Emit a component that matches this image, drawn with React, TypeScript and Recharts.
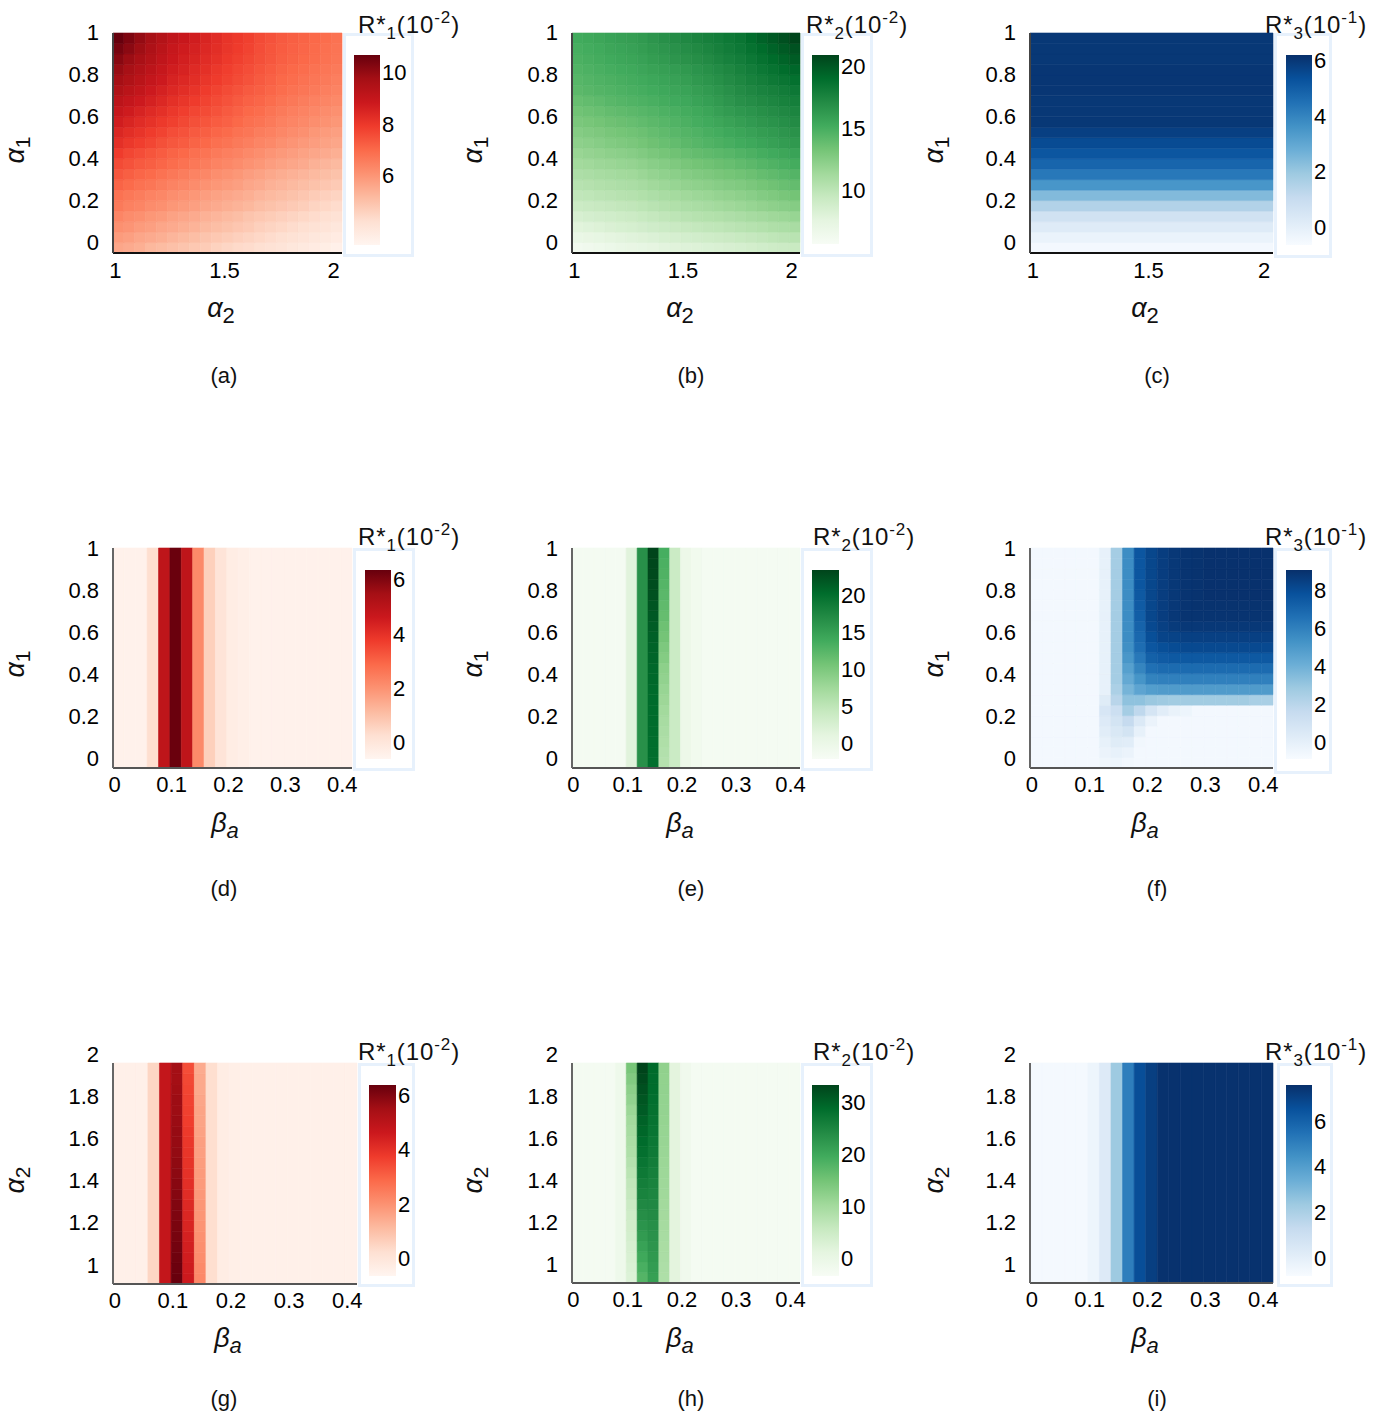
import React from 'react';
import { ScatterChart, Scatter, XAxis, YAxis, ReferenceArea } from 'recharts';

const FONT = '"Liberation Sans", Arial, Helvetica, sans-serif';

// ---------- grids & ticks ----------
const alpha1Values = [0, 0.05, 0.1, 0.15, 0.2, 0.25, 0.3, 0.35, 0.4, 0.45, 0.5, 0.55, 0.6, 0.65, 0.7, 0.75, 0.8, 0.85, 0.9, 0.95, 1];
const alpha2Values = [1, 1.05, 1.1, 1.15, 1.2, 1.25, 1.3, 1.35, 1.4, 1.45, 1.5, 1.55, 1.6, 1.65, 1.7, 1.75, 1.8, 1.85, 1.9, 1.95, 2];
const betaValues = [0, 0.02, 0.04, 0.06, 0.08, 0.1, 0.12, 0.14, 0.16, 0.18, 0.2, 0.22, 0.24, 0.26, 0.28, 0.3, 0.32, 0.34, 0.36, 0.38, 0.4];

const alpha1Ticks = [0, 0.2, 0.4, 0.6, 0.8, 1];
const alpha2TicksX = [1, 1.5, 2];
const alpha2TicksY = [1, 1.2, 1.4, 1.6, 1.8, 2];
const betaTicks = [0, 0.1, 0.2, 0.3, 0.4];

// ---------- colour-bar ranges & ticks ----------
const rangeA = [3.27, 10.69]; const cbTicksA = [6, 8, 10];
const rangeB = [5.67, 20.94]; const cbTicksB = [10, 15, 20];
const rangeC = [-0.64, 6.2]; const cbTicksC = [0, 2, 4, 6];
const rangeD = [-0.6, 6.34]; const cbTicksD = [0, 2, 4, 6];
const rangeE = [-2.1, 23.4]; const cbTicksE = [0, 5, 10, 15, 20];
const rangeF = [-0.9, 9.05]; const cbTicksF = [0, 2, 4, 6, 8];
const rangeG = [-0.65, 6.37]; const cbTicksG = [0, 2, 4, 6];
const rangeH = [-3.4, 33.2]; const cbTicksH = [0, 10, 20, 30];
const rangeI = [-0.77, 7.56]; const cbTicksI = [0, 2, 4, 6];

// ---------- (a) R*1 over alpha2 (cols) x alpha1 (rows, ascending) ----------
const valuesA = [
  [5.6, 5.5, 5.4, 5.2, 5.1, 5.0, 4.9, 4.8, 4.7, 4.55, 4.45, 4.35, 4.3, 4.2, 4.1, 4.0, 3.9, 3.8, 3.7, 3.6, 3.5],
  [5.85, 5.75, 5.6, 5.5, 5.4, 5.25, 5.15, 5.05, 4.9, 4.8, 4.7, 4.6, 4.5, 4.4, 4.3, 4.2, 4.1, 4.0, 3.9, 3.8, 3.7],
  [6.1, 6.0, 5.85, 5.75, 5.6, 5.5, 5.4, 5.3, 5.15, 5.05, 4.95, 4.85, 4.75, 4.6, 4.5, 4.4, 4.3, 4.2, 4.1, 4.0, 3.9],
  [6.35, 6.2, 6.1, 5.95, 5.85, 5.7, 5.6, 5.5, 5.35, 5.25, 5.15, 5.05, 4.9, 4.8, 4.7, 4.6, 4.5, 4.4, 4.3, 4.2, 4.1],
  [6.6, 6.45, 6.35, 6.2, 6.1, 5.95, 5.85, 5.75, 5.6, 5.5, 5.4, 5.3, 5.2, 5.05, 4.95, 4.85, 4.75, 4.65, 4.5, 4.4, 4.3],
  [6.8, 6.65, 6.55, 6.4, 6.3, 6.15, 6.05, 5.95, 5.8, 5.7, 5.6, 5.5, 5.4, 5.25, 5.15, 5.05, 4.95, 4.85, 4.7, 4.6, 4.5],
  [7.1, 6.95, 6.8, 6.7, 6.55, 6.4, 6.3, 6.2, 6.05, 5.95, 5.85, 5.75, 5.6, 5.5, 5.35, 5.25, 5.15, 5.05, 4.95, 4.85, 4.75],
  [7.35, 7.2, 7.05, 6.95, 6.8, 6.65, 6.55, 6.4, 6.3, 6.15, 6.05, 5.95, 5.8, 5.7, 5.55, 5.45, 5.35, 5.25, 5.15, 5.05, 4.95],
  [7.6, 7.45, 7.3, 7.2, 7.05, 6.9, 6.8, 6.65, 6.55, 6.4, 6.3, 6.2, 6.05, 5.95, 5.8, 5.7, 5.6, 5.5, 5.35, 5.25, 5.15],
  [7.9, 7.7, 7.55, 7.4, 7.25, 7.1, 7.0, 6.85, 6.75, 6.6, 6.5, 6.4, 6.25, 6.15, 6.0, 5.9, 5.8, 5.7, 5.6, 5.5, 5.4],
  [8.2, 8.0, 7.85, 7.7, 7.5, 7.35, 7.25, 7.1, 7.0, 6.85, 6.75, 6.6, 6.5, 6.35, 6.25, 6.1, 6.0, 5.9, 5.8, 5.7, 5.6],
  [8.45, 8.25, 8.1, 7.9, 7.75, 7.55, 7.45, 7.3, 7.2, 7.05, 6.95, 6.8, 6.7, 6.55, 6.45, 6.3, 6.2, 6.1, 5.95, 5.85, 5.75],
  [8.7, 8.5, 8.3, 8.15, 7.95, 7.8, 7.65, 7.5, 7.4, 7.25, 7.15, 7.0, 6.85, 6.75, 6.6, 6.45, 6.35, 6.25, 6.15, 6.05, 5.95],
  [8.95, 8.75, 8.55, 8.35, 8.2, 8.0, 7.85, 7.7, 7.6, 7.45, 7.3, 7.15, 7.0, 6.9, 6.75, 6.6, 6.5, 6.4, 6.3, 6.2, 6.1],
  [9.2, 9.0, 8.8, 8.6, 8.4, 8.2, 8.05, 7.9, 7.75, 7.6, 7.45, 7.3, 7.15, 7.05, 6.9, 6.75, 6.65, 6.55, 6.45, 6.35, 6.25],
  [9.5, 9.25, 9.05, 8.8, 8.6, 8.4, 8.25, 8.1, 7.9, 7.75, 7.6, 7.45, 7.3, 7.2, 7.05, 6.9, 6.8, 6.7, 6.6, 6.5, 6.4],
  [9.75, 9.5, 9.25, 9.0, 8.8, 8.55, 8.4, 8.25, 8.05, 7.9, 7.75, 7.6, 7.45, 7.3, 7.15, 7.0, 6.9, 6.8, 6.7, 6.6, 6.5],
  [9.95, 9.7, 9.45, 9.2, 8.95, 8.7, 8.55, 8.35, 8.2, 8.0, 7.85, 7.7, 7.55, 7.4, 7.25, 7.1, 7.0, 6.9, 6.8, 6.7, 6.6],
  [10.2, 9.9, 9.65, 9.4, 9.1, 8.85, 8.65, 8.5, 8.3, 8.15, 7.95, 7.8, 7.65, 7.5, 7.35, 7.2, 7.1, 7.0, 6.9, 6.8, 6.7],
  [10.45, 10.15, 9.85, 9.55, 9.25, 8.95, 8.75, 8.6, 8.4, 8.25, 8.05, 7.9, 7.75, 7.55, 7.4, 7.25, 7.15, 7.05, 6.95, 6.85, 6.75],
  [10.7, 10.35, 10.0, 9.7, 9.4, 9.1, 8.9, 8.7, 8.5, 8.3, 8.1, 7.95, 7.8, 7.6, 7.45, 7.3, 7.2, 7.1, 7.0, 6.9, 6.8],
];

// ---------- (b) R*2 over alpha2 x alpha1 ----------
const valuesB = [
  [6.2, 6.4, 6.6, 6.8, 7.0, 7.2, 7.35, 7.5, 7.7, 7.85, 8.0, 8.1, 8.25, 8.35, 8.5, 8.6, 8.75, 8.9, 9.05, 9.2, 9.35],
  [7.0, 7.2, 7.35, 7.55, 7.7, 7.9, 8.05, 8.2, 8.4, 8.55, 8.7, 8.85, 9.0, 9.1, 9.25, 9.4, 9.55, 9.7, 9.9, 10.05, 10.2],
  [7.8, 7.95, 8.1, 8.3, 8.45, 8.6, 8.8, 8.95, 9.15, 9.3, 9.5, 9.65, 9.8, 9.9, 10.05, 10.2, 10.35, 10.5, 10.7, 10.85, 11.0],
  [8.5, 8.65, 8.8, 8.9, 9.05, 9.2, 9.4, 9.6, 9.8, 10.0, 10.2, 10.35, 10.5, 10.6, 10.75, 10.9, 11.1, 11.25, 11.45, 11.6, 11.8],
  [9.2, 9.3, 9.45, 9.55, 9.7, 9.8, 10.0, 10.2, 10.4, 10.6, 10.8, 10.95, 11.1, 11.3, 11.45, 11.6, 11.8, 12.0, 12.2, 12.4, 12.6],
  [9.8, 9.9, 10.05, 10.15, 10.3, 10.4, 10.6, 10.8, 11.0, 11.2, 11.4, 11.55, 11.7, 11.9, 12.05, 12.2, 12.4, 12.65, 12.85, 13.1, 13.3],
  [10.3, 10.4, 10.55, 10.65, 10.8, 10.9, 11.1, 11.35, 11.55, 11.8, 12.0, 12.15, 12.3, 12.5, 12.65, 12.8, 13.0, 13.25, 13.45, 13.7, 13.9],
  [10.8, 10.9, 11.05, 11.15, 11.3, 11.4, 11.65, 11.9, 12.1, 12.35, 12.6, 12.75, 12.9, 13.1, 13.25, 13.4, 13.6, 13.85, 14.05, 14.3, 14.5],
  [11.3, 11.4, 11.55, 11.65, 11.8, 11.9, 12.15, 12.4, 12.6, 12.85, 13.1, 13.3, 13.45, 13.65, 13.8, 14.0, 14.2, 14.45, 14.65, 14.9, 15.1],
  [11.75, 11.9, 12.05, 12.2, 12.35, 12.5, 12.75, 13.0, 13.2, 13.45, 13.7, 13.9, 14.05, 14.25, 14.4, 14.6, 14.8, 15.05, 15.25, 15.5, 15.7],
  [12.2, 12.35, 12.5, 12.7, 12.85, 13.0, 13.25, 13.5, 13.7, 13.95, 14.2, 14.4, 14.6, 14.8, 15.0, 15.2, 15.4, 15.65, 15.85, 16.1, 16.3],
  [12.6, 12.75, 12.9, 13.1, 13.25, 13.4, 13.6, 13.85, 14.05, 14.3, 14.5, 14.7, 14.95, 15.15, 15.4, 15.6, 15.8, 16.05, 16.25, 16.5, 16.7],
  [13.0, 13.15, 13.3, 13.5, 13.65, 13.8, 14.0, 14.2, 14.4, 14.6, 14.8, 15.05, 15.3, 15.5, 15.75, 16.0, 16.2, 16.45, 16.65, 16.9, 17.1],
  [13.4, 13.55, 13.7, 13.9, 14.05, 14.2, 14.4, 14.55, 14.75, 14.9, 15.1, 15.35, 15.6, 15.9, 16.15, 16.4, 16.6, 16.85, 17.05, 17.3, 17.5],
  [13.8, 13.95, 14.1, 14.3, 14.45, 14.6, 14.75, 14.9, 15.1, 15.25, 15.4, 15.7, 15.95, 16.25, 16.5, 16.8, 17.0, 17.25, 17.45, 17.7, 17.9],
  [14.2, 14.35, 14.5, 14.6, 14.75, 14.9, 15.05, 15.2, 15.4, 15.55, 15.7, 16.0, 16.25, 16.55, 16.8, 17.1, 17.35, 17.6, 17.8, 18.05, 18.3],
  [14.4, 14.55, 14.7, 14.8, 14.95, 15.1, 15.3, 15.45, 15.65, 15.8, 16.0, 16.3, 16.55, 16.85, 17.1, 17.4, 17.7, 17.95, 18.25, 18.5, 18.8],
  [14.6, 14.75, 14.9, 15.05, 15.2, 15.35, 15.55, 15.75, 15.9, 16.1, 16.3, 16.6, 16.85, 17.15, 17.4, 17.7, 18.0, 18.35, 18.65, 19.0, 19.3],
  [14.8, 14.95, 15.1, 15.3, 15.45, 15.6, 15.8, 16.05, 16.25, 16.5, 16.7, 16.95, 17.2, 17.5, 17.75, 18.0, 18.35, 18.7, 19.1, 19.45, 19.8],
  [15.0, 15.15, 15.3, 15.5, 15.65, 15.8, 16.05, 16.3, 16.5, 16.75, 17.0, 17.25, 17.5, 17.8, 18.05, 18.3, 18.7, 19.1, 19.5, 19.9, 20.3],
  [15.2, 15.35, 15.5, 15.7, 15.85, 16.0, 16.25, 16.5, 16.8, 17.05, 17.3, 17.55, 17.8, 18.0, 18.25, 18.5, 19.0, 19.5, 19.9, 20.4, 20.9],
];

// ---------- (c) R*3 per alpha1 row (same across alpha2) ----------
const valuesC = [-0.5, -0.2, 0.2, 0.7, 1.5, 2.4, 3.5, 4.3, 4.8, 5.2, 5.5, 5.8, 6.0, 6.0, 6.0, 6.05, 6.05, 6.05, 6.0, 6.0, 6.0];

// ---------- (d) R*1 per beta column ----------
const valuesD = [-0.45, -0.45, -0.45, 0.3, 4.9, 6.3, 4.9, 2.2, 0.65, 0.1, -0.25, -0.35, -0.45, -0.45, -0.45, -0.45, -0.45, -0.45, -0.45, -0.45, -0.45];

// ---------- (e) R*2 per beta column, two columns vary with alpha1 ----------
const valuesE = [-1.6, -1.6, -1.6, -1.6, -1.6, 1.5, 16.5, 21.5, 9.5, 3.8, -0.3, -1.1, -1.6, -1.6, -1.6, -1.6, -1.6, -1.6, -1.6, -1.6, -1.6];
const valuesECol7 = [20.0, 20.1, 20.1, 20.2, 20.2, 20.2, 20.3, 20.4, 20.5, 20.6, 20.8, 21.0, 21.2, 21.5, 21.8, 22.1, 22.4, 22.7, 23.0, 23.2, 23.4];
const valuesECol8 = [5.8, 6.0, 6.3, 6.6, 6.9, 7.3, 7.7, 8.1, 8.5, 8.9, 9.5, 10.0, 10.6, 11.0, 11.5, 11.9, 12.2, 12.6, 12.9, 13.2, 13.5];

// ---------- (f) R*3 over beta (cols) x alpha1 (rows, ascending) ----------
const valuesF = [
  [-0.7, -0.7, -0.7, -0.7, -0.7, -0.7, -0.5, -0.4, -0.6, -0.7, -0.7, -0.7, -0.7, -0.7, -0.7, -0.7, -0.7, -0.7, -0.7, -0.7, -0.7],
  [-0.7, -0.7, -0.7, -0.7, -0.7, -0.7, -0.3, -0.1, -0.3, -0.7, -0.7, -0.7, -0.7, -0.7, -0.7, -0.7, -0.7, -0.7, -0.7, -0.7, -0.7],
  [-0.7, -0.7, -0.7, -0.7, -0.7, -0.7, -0.1, 0.3, 0.2, -0.6, -0.7, -0.7, -0.7, -0.7, -0.7, -0.7, -0.7, -0.7, -0.7, -0.7, -0.7],
  [-0.7, -0.7, -0.7, -0.7, -0.7, -0.7, 0.2, 0.6, 0.9, -0.1, -0.7, -0.7, -0.7, -0.7, -0.7, -0.7, -0.7, -0.7, -0.7, -0.7, -0.7],
  [-0.7, -0.7, -0.7, -0.7, -0.7, -0.7, 0.4, 0.9, 1.6, 0.5, -0.3, -0.7, -0.7, -0.7, -0.7, -0.7, -0.7, -0.7, -0.7, -0.7, -0.7],
  [-0.7, -0.7, -0.7, -0.7, -0.7, -0.7, 0.7, 1.3, 2.6, 1.8, 0.8, 0.2, -0.2, -0.4, -0.7, -0.7, -0.7, -0.7, -0.7, -0.7, -0.7],
  [-0.7, -0.7, -0.7, -0.7, -0.7, -0.7, 0.3, 2.0, 3.2, 3.2, 2.9, 2.8, 2.7, 2.7, 2.7, 2.7, 2.7, 2.7, 2.7, 2.5, 2.5],
  [-0.7, -0.7, -0.7, -0.7, -0.7, -0.7, -0.1, 2.4, 3.8, 4.5, 4.8, 4.9, 4.9, 4.9, 4.9, 4.9, 4.9, 4.9, 4.9, 4.9, 4.9],
  [-0.7, -0.7, -0.7, -0.7, -0.7, -0.7, -0.1, 2.6, 4.3, 5.2, 5.9, 6.0, 6.0, 6.0, 6.0, 6.0, 6.0, 6.0, 6.0, 6.0, 6.0],
  [-0.7, -0.7, -0.7, -0.7, -0.7, -0.7, -0.1, 2.6, 4.7, 5.8, 6.6, 6.8, 6.8, 6.8, 6.8, 6.8, 6.8, 6.8, 6.8, 6.8, 6.8],
  [-0.7, -0.7, -0.7, -0.7, -0.7, -0.7, -0.1, 2.6, 5.1, 6.3, 7.2, 7.4, 7.5, 7.5, 7.5, 7.5, 7.5, 7.5, 7.5, 7.5, 7.5],
  [-0.7, -0.7, -0.7, -0.7, -0.7, -0.7, -0.1, 2.6, 5.4, 6.7, 7.6, 7.9, 8.0, 8.1, 8.1, 8.1, 8.1, 8.1, 8.1, 8.1, 8.1],
  [-0.7, -0.7, -0.7, -0.7, -0.7, -0.7, -0.1, 2.6, 5.5, 6.9, 7.9, 8.3, 8.35, 8.45, 8.45, 8.45, 8.45, 8.45, 8.45, 8.45, 8.45],
  [-0.7, -0.7, -0.7, -0.7, -0.7, -0.7, -0.1, 2.6, 5.5, 7.1, 8.1, 8.45, 8.65, 8.75, 8.75, 8.75, 8.75, 8.75, 8.75, 8.75, 8.75],
  [-0.7, -0.7, -0.7, -0.7, -0.7, -0.7, -0.1, 2.6, 5.5, 7.3, 8.2, 8.55, 8.75, 8.9, 8.9, 8.9, 8.9, 8.9, 8.9, 8.9, 8.9],
  [-0.7, -0.7, -0.7, -0.7, -0.7, -0.7, -0.1, 2.6, 5.5, 7.4, 8.2, 8.55, 8.75, 8.9, 8.95, 8.95, 8.95, 8.95, 8.95, 8.95, 8.95],
  [-0.7, -0.7, -0.7, -0.7, -0.7, -0.7, -0.1, 2.6, 5.5, 7.5, 8.2, 8.55, 8.75, 8.9, 8.95, 9.0, 9.0, 9.0, 9.0, 9.0, 9.0],
  [-0.7, -0.7, -0.7, -0.7, -0.7, -0.7, -0.1, 2.6, 5.5, 7.6, 8.2, 8.55, 8.75, 8.9, 8.95, 9.0, 9.0, 9.0, 9.0, 9.0, 9.0],
  [-0.7, -0.7, -0.7, -0.7, -0.7, -0.7, -0.1, 2.6, 5.5, 7.6, 8.2, 8.55, 8.75, 8.9, 8.95, 9.0, 9.0, 9.0, 9.0, 9.0, 9.0],
  [-0.7, -0.7, -0.7, -0.7, -0.7, -0.7, -0.1, 2.6, 5.5, 7.6, 8.2, 8.55, 8.75, 8.9, 8.95, 9.0, 9.0, 9.0, 9.0, 9.0, 9.0],
  [-0.7, -0.7, -0.7, -0.7, -0.7, -0.7, -0.1, 2.6, 5.5, 7.6, 8.2, 8.55, 8.75, 8.9, 8.95, 9.0, 9.0, 9.0, 9.0, 9.0, 9.0],
];

// ---------- (g) R*1 per beta column, three columns vary with alpha2 ----------
const valuesG = [-0.45, -0.45, -0.45, 0.47, 4.8, 6.0, 4.0, 1.8, 0.26, -0.3, -0.4, -0.45, -0.45, -0.45, -0.45, -0.45, -0.45, -0.45, -0.45, -0.45, -0.45];
const valuesGCol5 = [6.35, 6.3, 6.25, 6.2, 6.15, 6.1, 6.05, 6.0, 5.95, 5.9, 5.85, 5.8, 5.75, 5.7, 5.7, 5.65, 5.6, 5.6, 5.55, 5.5, 5.5];
const valuesGCol6 = [4.6, 4.55, 4.5, 4.45, 4.4, 4.3, 4.25, 4.2, 4.1, 4.05, 4.0, 3.95, 3.9, 3.85, 3.8, 3.7, 3.65, 3.6, 3.55, 3.5, 3.4];
const valuesGCol7 = [2.2, 2.15, 2.1, 2.05, 2.0, 1.95, 1.9, 1.9, 1.85, 1.8, 1.8, 1.75, 1.7, 1.7, 1.65, 1.6, 1.6, 1.55, 1.5, 1.5, 1.45];

// ---------- (h) R*2 per beta column, four columns vary with alpha2 ----------
const valuesH = [-2.7, -2.7, -2.7, -2.7, -1.2, 7.0, 26.0, 25.0, 10.5, 1.4, -1.6, -2.7, -2.7, -2.7, -2.7, -2.7, -2.7, -2.7, -2.7, -2.7, -2.7];
const valuesHCol5 = [2.5, 2.8, 3.2, 3.5, 3.9, 4.3, 4.7, 5.3, 6.0, 6.5, 7.3, 8.0, 8.7, 9.1, 9.6, 10.1, 10.8, 11.8, 12.5, 13.5, 14.5];
const valuesHCol6 = [17.8, 18.8, 19.8, 20.8, 21.8, 22.8, 23.6, 24.5, 25.3, 26.0, 26.8, 27.4, 28.1, 28.7, 29.3, 29.9, 30.6, 31.2, 31.9, 32.6, 33.2];
const valuesHCol7 = [21.1, 21.6, 22.1, 22.6, 23.0, 23.5, 24.0, 24.5, 24.8, 25.3, 25.7, 26.2, 26.6, 27.0, 27.4, 27.7, 28.0, 28.3, 28.6, 28.7, 28.8];
const valuesHCol8 = [8.7, 8.9, 9.1, 9.3, 9.5, 9.7, 9.9, 10.1, 10.3, 10.5, 10.6, 10.8, 11.0, 11.2, 11.3, 11.5, 11.6, 11.7, 11.8, 11.9, 12.0];

// ---------- (i) R*3 per beta column ----------
const valuesI = [-0.65, -0.65, -0.65, -0.65, -0.65, -0.35, 0.33, 2.35, 5.06, 6.6, 7.1, 7.5, 7.5, 7.5, 7.5, 7.5, 7.5, 7.5, 7.5, 7.5, 7.5];

// ---------- colour maps (style) ----------
const REDS = ['#fff5f0', '#fee0d2', '#fcbba1', '#fc9272', '#fb6a4a', '#ef3b2c', '#cb181d', '#a50f15', '#67000d'];
const GREENS = ['#f7fcf5', '#e5f5e0', '#c7e9c0', '#a1d99b', '#74c476', '#41ab5d', '#238b45', '#006d2c', '#00441b'];
const BLUES = ['#f7fbff', '#deebf7', '#c6dbef', '#9ecae1', '#6baed6', '#4292c6', '#2171b5', '#08519c', '#08306b'];

function hexToRgb(h: string) {
  const n = parseInt(h.slice(1), 16);
  return [(n >> 16) & 255, (n >> 8) & 255, n & 255];
}
function colorFor(stops: string[], range: number[], v: number) {
  let t = (v - range[0]) / (range[1] - range[0]);
  t = Math.max(0, Math.min(1, t));
  const p = t * (stops.length - 1);
  const i = Math.min(stops.length - 2, Math.floor(p));
  const f = p - i;
  const a = hexToRgb(stops[i]);
  const b = hexToRgb(stops[i + 1]);
  const c = a.map((x, k) => Math.round(x + (b[k] - x) * f));
  return `rgb(${c[0]},${c[1]},${c[2]})`;
}

// ---------- cell builders ----------
type Cell = { x1: number; x2: number; y1: number; y2: number; v: number };
const halfStep = (vals: number[]) => (vals[1] - vals[0]) / 2;
const lo = (vals: number[]) => vals[0] - halfStep(vals);
const hi = (vals: number[]) => vals[vals.length - 1] + halfStep(vals);

function matrixCells(xs: number[], ys: number[], m: number[][]): Cell[] {
  const hx = halfStep(xs), hy = halfStep(ys);
  const out: Cell[] = [];
  ys.forEach((y, i) => xs.forEach((x, j) => out.push({ x1: x - hx, x2: x + hx, y1: y - hy, y2: y + hy, v: m[i][j] })));
  return out;
}
function rowCells(xs: number[], ys: number[], rows: number[]): Cell[] {
  const hy = halfStep(ys);
  return ys.map((y, i) => ({ x1: lo(xs), x2: hi(xs), y1: y - hy, y2: y + hy, v: rows[i] }));
}
function columnCells(xs: number[], ys: number[], cols: number[], profiles: Record<number, number[]>): Cell[] {
  const hx = halfStep(xs), hy = halfStep(ys);
  const out: Cell[] = [];
  xs.forEach((x, j) => {
    const prof = profiles[j];
    if (prof) {
      ys.forEach((y, i) => out.push({ x1: x - hx, x2: x + hx, y1: y - hy, y2: y + hy, v: prof[i] }));
    } else {
      out.push({ x1: x - hx, x2: x + hx, y1: lo(ys), y2: hi(ys), v: cols[j] });
    }
  });
  return out;
}

const fmt = (v: number) => String(v);
const NoShape = () => <g />;

// ---------- components ----------
function HeatPanel(props: any) {
  const { plot, xs, ys, cells, xTicks, yTicks, cmap, range, xDx, yDy, xMargin, xStroke, yStroke } = props;
  const [L, T, W, H] = plot;
  const mt = 26, yw = 60, mr = 10, xh = 40;
  const anchors = [{ x: lo(xs), y: lo(ys) }, { x: hi(xs), y: hi(ys) }];
  const xTick = (p: any) => (
    <text x={p.x + xDx} y={p.y} dy="0.71em" textAnchor="middle" fontSize={22} fontFamily={FONT} fill="#000">
      {fmt(p.payload.value)}
    </text>
  );
  const yTick = (p: any) => (
    <text x={p.x} y={p.y + yDy} dy="0.355em" textAnchor="end" fontSize={22} fontFamily={FONT} fill="#000">
      {fmt(p.payload.value)}
    </text>
  );
  return (
    <div style={{ position: 'absolute', left: L - yw, top: T - mt }}>
      <ScatterChart width={W + yw + mr} height={mt + H + xh} margin={{ top: mt, right: mr, left: 0, bottom: 0 }}>
        <XAxis type="number" dataKey="x" domain={[lo(xs), hi(xs)]} ticks={xTicks} interval={0} allowDataOverflow height={xh}
          tickSize={0} tickMargin={xMargin} tickLine={false} axisLine={{ stroke: xStroke, strokeWidth: 2 }} tick={xTick} />
        <YAxis type="number" dataKey="y" domain={[lo(ys), hi(ys)]} ticks={yTicks} interval={0} allowDataOverflow width={yw}
          tickSize={0} tickMargin={14} tickLine={false} axisLine={{ stroke: yStroke, strokeWidth: 2 }} tick={yTick} />
        {cells.map((c: Cell, k: number) => {
          const col = colorFor(cmap, range, c.v);
          return (
            <ReferenceArea key={k} x1={c.x1} x2={c.x2} y1={c.y1} y2={c.y2} fill={col} fillOpacity={1}
              stroke={col} strokeWidth={0.6} ifOverflow="visible" />
          );
        })}
        <Scatter data={anchors} shape={NoShape} isAnimationActive={false} />
      </ScatterChart>
    </div>
  );
}

function ColorBar(props: any) {
  const { rect, cmap, range, ticks, id } = props;
  const [L, T, W, H] = rect;
  const pad = 14, aw = 50;
  const anchors = [{ x: 0, y: range[0] }, { x: 1, y: range[1] }];
  const cbTick = (p: any) => (
    <text x={p.x} y={p.y} dy="0.355em" textAnchor="start" fontSize={22} fontFamily={FONT} fill="#000">
      {fmt(p.payload.value)}
    </text>
  );
  return (
    <div style={{ position: 'absolute', left: L, top: T - pad }}>
      <ScatterChart width={W + aw} height={H + 2 * pad} margin={{ top: pad, right: 0, left: 0, bottom: pad }}>
        <defs>
          <linearGradient id={id} x1="0" y1="1" x2="0" y2="0">
            {cmap.map((c: string, i: number) => (
              <stop key={i} offset={i / (cmap.length - 1)} stopColor={c} />
            ))}
          </linearGradient>
        </defs>
        <XAxis type="number" dataKey="x" domain={[0, 1]} hide allowDataOverflow />
        <YAxis type="number" dataKey="y" orientation="right" domain={range} ticks={ticks} interval={0} allowDataOverflow width={aw}
          tickSize={0} tickMargin={2} tickLine={false} axisLine={false} tick={cbTick} />
        <ReferenceArea x1={0} x2={1} y1={range[0]} y2={range[1]} fill={`url(#${id})`} fillOpacity={1} ifOverflow="visible" />
        <Scatter data={anchors} shape={NoShape} isAnimationActive={false} />
      </ScatterChart>
    </div>
  );
}

function Title({ x, y, idx, exp }: any) {
  return (
    <text x={x} y={y} fontFamily={FONT} fontSize={24} fill="#111" letterSpacing={0.9}>
      R*<tspan fontSize={17} dy={6}>{idx}</tspan>
      <tspan fontSize={24} dy={-6}>(10</tspan>
      <tspan fontSize={17} dy={-10}>{exp}</tspan>
      <tspan fontSize={24} dy={10}>)</tspan>
    </text>
  );
}

function YLabel({ x, y, sub }: any) {
  return (
    <text transform={`translate(${x},${y}) rotate(-90)`} textAnchor="middle" fontFamily={FONT} fill="#111">
      <tspan fontSize={27} fontStyle="italic">α</tspan>
      <tspan fontSize={21} dy={6}>{sub}</tspan>
    </text>
  );
}

function XLabel({ x, y, greek, sub, subItalic }: any) {
  return (
    <text x={x} y={y} textAnchor="middle" fontFamily={FONT} fill="#111">
      <tspan fontSize={27} fontStyle="italic">{greek}</tspan>
      <tspan fontSize={22} dy={6} fontStyle={subItalic ? 'italic' : 'normal'}>{sub}</tspan>
    </text>
  );
}

// ---------- layout (positions & styles) ----------
const ROW1 = { xDx: -3, yDy: -6, xMargin: 9, xStroke: '#111', yStroke: '#444' };
const ROW2 = { xDx: -4, yDy: -5, xMargin: 8, xStroke: '#555', yStroke: '#666' };
const ROW3 = { xDx: -4, yDy: -14, xMargin: 8, xStroke: '#555', yStroke: '#666' };

const panels = [
  { id: 'a', plot: [113, 33, 229, 220], cb: [354, 55, 26, 190], frame: [343, 33, 414, 257], xs: alpha2Values, ys: alpha1Values,
    cells: matrixCells(alpha2Values, alpha1Values, valuesA), xTicks: alpha2TicksX, yTicks: alpha1Ticks, cmap: REDS, range: rangeA, cbTicks: cbTicksA, ...ROW1 },
  { id: 'b', plot: [572, 33, 228, 220], cb: [812, 55, 27, 189], frame: [801, 33, 873, 257], xs: alpha2Values, ys: alpha1Values,
    cells: matrixCells(alpha2Values, alpha1Values, valuesB), xTicks: alpha2TicksX, yTicks: alpha1Ticks, cmap: GREENS, range: rangeB, cbTicks: cbTicksB, ...ROW1 },
  { id: 'c', plot: [1030, 33, 243, 220], cb: [1286, 55, 26, 190], frame: [1274, 33, 1332, 258], xs: alpha2Values, ys: alpha1Values,
    cells: rowCells(alpha2Values, alpha1Values, valuesC), xTicks: alpha2TicksX, yTicks: alpha1Ticks, cmap: BLUES, range: rangeC, cbTicks: cbTicksC, ...ROW1 },
  { id: 'd', plot: [113, 548, 239, 220], cb: [365, 570, 26, 189], frame: [353, 548, 415, 771], xs: betaValues, ys: alpha1Values,
    cells: columnCells(betaValues, alpha1Values, valuesD, {}), xTicks: betaTicks, yTicks: alpha1Ticks, cmap: REDS, range: rangeD, cbTicks: cbTicksD, ...ROW2 },
  { id: 'e', plot: [572, 548, 228, 220], cb: [812, 570, 27, 189], frame: [801, 548, 873, 771], xs: betaValues, ys: alpha1Values,
    cells: columnCells(betaValues, alpha1Values, valuesE, { 7: valuesECol7, 8: valuesECol8 }), xTicks: betaTicks, yTicks: alpha1Ticks, cmap: GREENS, range: rangeE, cbTicks: cbTicksE, ...ROW2 },
  { id: 'f', plot: [1030, 548, 243, 220], cb: [1286, 570, 26, 189], frame: [1274, 548, 1332, 774], xs: betaValues, ys: alpha1Values,
    cells: matrixCells(betaValues, alpha1Values, valuesF), xTicks: betaTicks, yTicks: alpha1Ticks, cmap: BLUES, range: rangeF, cbTicks: cbTicksF, ...ROW2 },
  { id: 'g', plot: [113, 1063, 244, 221], cb: [369, 1085, 27, 191], frame: [358, 1063, 415, 1287], xs: betaValues, ys: alpha2Values,
    cells: columnCells(betaValues, alpha2Values, valuesG, { 5: valuesGCol5, 6: valuesGCol6, 7: valuesGCol7 }), xTicks: betaTicks, yTicks: alpha2TicksY, cmap: REDS, range: rangeG, cbTicks: cbTicksG, ...ROW3 },
  { id: 'h', plot: [572, 1063, 228, 220], cb: [812, 1085, 27, 191], frame: [801, 1063, 873, 1287], xs: betaValues, ys: alpha2Values,
    cells: columnCells(betaValues, alpha2Values, valuesH, { 5: valuesHCol5, 6: valuesHCol6, 7: valuesHCol7, 8: valuesHCol8 }), xTicks: betaTicks, yTicks: alpha2TicksY, cmap: GREENS, range: rangeH, cbTicks: cbTicksH, ...ROW3 },
  { id: 'i', plot: [1030, 1063, 243, 220], cb: [1286, 1085, 26, 191], frame: [1277, 1063, 1333, 1287], xs: betaValues, ys: alpha2Values,
    cells: columnCells(betaValues, alpha2Values, valuesI, {}), xTicks: betaTicks, yTicks: alpha2TicksY, cmap: BLUES, range: rangeI, cbTicks: cbTicksI, ...ROW3 },
];

const titleX = [[358, 806, 1265], [358, 813, 1265], [358, 813, 1265]];
const titleY = [33, 545, 1060];
const titleIdx = ['1', '2', '3'];
const titleExp = ['-2', '-2', '-1'];
const yLabelX = [24, 482, 943];
const yLabelY = [150, 664, 1180];
const yLabelSub = ['1', '1', '2'];
const xLabelX = [[221, 680, 1145], [225, 680, 1145], [228, 680, 1145]];
const xLabelY = [317, 832, 1347];
const panelLetterX = [224, 691, 1157];
const panelLetterY = [383, 896, 1406];
const panelLetters = [['(a)', '(b)', '(c)'], ['(d)', '(e)', '(f)'], ['(g)', '(h)', '(i)']];

export default function App() {
  return (
    <div style={{ position: 'absolute', left: 0, top: 0, width: 1390, height: 1417, background: '#fff', fontFamily: FONT }}>
      <svg width={1390} height={1417} style={{ position: 'absolute', left: 0, top: 0 }}>
        {panels.map((p) => {
          const [x1, y1, x2, y2] = p.frame;
          return <rect key={p.id} x={x1 + 1.5} y={y1 + 1.5} width={x2 - x1 - 3} height={y2 - y1 - 3} fill="none" stroke="#e7f1fc" strokeWidth={3} />;
        })}
        {[0, 1, 2].map((r) =>
          [0, 1, 2].map((c) => (
            <g key={`${r}-${c}`}>
              <Title x={titleX[r][c]} y={titleY[r]} idx={titleIdx[c]} exp={titleExp[c]} />
              <YLabel x={yLabelX[c]} y={yLabelY[r]} sub={yLabelSub[r]} />
              {r === 0 ? (
                <XLabel x={xLabelX[r][c]} y={xLabelY[r]} greek="α" sub="2" subItalic={false} />
              ) : (
                <XLabel x={xLabelX[r][c]} y={xLabelY[r]} greek="β" sub="a" subItalic={true} />
              )}
              <text x={panelLetterX[c]} y={panelLetterY[r]} textAnchor="middle" fontSize={22} fontFamily={FONT} fill="#111">
                {panelLetters[r][c]}
              </text>
            </g>
          ))
        )}
      </svg>
      {panels.map((p) => (
        <HeatPanel key={p.id} {...p} />
      ))}
      {panels.map((p) => (
        <ColorBar key={`cb-${p.id}`} id={`grad-${p.id}`} rect={p.cb} cmap={p.cmap} range={p.range} ticks={p.cbTicks} />
      ))}
    </div>
  );
}
